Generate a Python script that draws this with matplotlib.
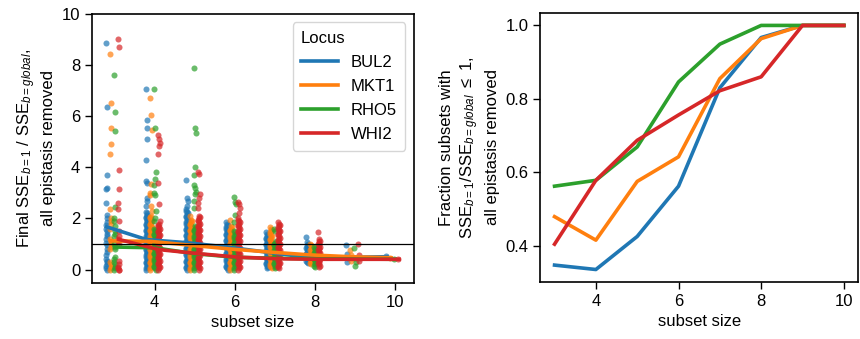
import numpy as np
import matplotlib
matplotlib.use("Agg")
import matplotlib.pyplot as plt

plt.rcParams['font.family'] = ['Liberation Sans', 'DejaVu Sans']
plt.rcParams['mathtext.fontset'] = 'custom'
plt.rcParams['mathtext.rm'] = 'Liberation Sans'
plt.rcParams['mathtext.it'] = 'Liberation Sans:italic'
plt.rcParams['font.size'] = 12

loci = ["BUL2", "MKT1", "RHO5", "WHI2"]
colors = ["#1f77b4", "#ff7f0e", "#2ca02c", "#d62728"]
sizes = [3, 4, 5, 6, 7, 8, 9, 10]

# mean ratio per subset size (left panel lines)
mean_BUL2 = [1.67, 1.17, 1.05, 0.88, 0.68, 0.48, 0.48, 0.50]
mean_MKT1 = [1.12, 1.10, 0.95, 0.80, 0.68, 0.57, 0.50, 0.46]
mean_RHO5 = [0.88, 0.85, 0.62, 0.48, 0.44, 0.42, 0.41, 0.40]
mean_WHI2 = [1.18, 0.78, 0.62, 0.48, 0.42, 0.40, 0.40, 0.40]

# fraction of subsets with ratio <= 1 (right panel)
frac_BUL2 = [0.347, 0.335, 0.425, 0.562, 0.830, 0.967, 1.0, 1.0]
frac_MKT1 = [0.479, 0.415, 0.575, 0.642, 0.855, 0.964, 1.0, 1.0]
frac_RHO5 = [0.562, 0.578, 0.669, 0.846, 0.949, 1.0, 1.0, 1.0]
frac_WHI2 = [0.404, 0.578, 0.687, 0.756, 0.822, 0.860, 1.0, 1.0]

# individual subset ratios (left panel points), one list per subset size
pts_BUL2 = [
    [8.85, 6.35, 3.7, 3.2, 3.15, 2.6, 2.15, 2.0, 1.85, 1.75, 1.6, 1.5, 1.4, 1.3, 1.2, 1.05, 0.95,
     0.8, 0.7, 0.55, 0.4, 0.35, 0.3, 0.2, 0.12, 0.05, 0.0],
    [7.05, 5.85, 5.55, 5.1, 4.3, 3.45, 3.4, 2.8, 2.7, 2.5, 2.25, 2.2, 2.15, 2.1, 2.05, 2.0, 1.95,
     1.9, 1.85, 1.8, 1.75, 1.7, 1.65, 1.6, 1.55, 1.5, 1.45, 1.4, 1.35, 1.3, 1.25, 1.2, 1.15, 1.1,
     1.05, 1.0, 0.95, 0.9, 0.85, 0.8, 0.75, 0.7, 0.65, 0.6, 0.55, 0.5, 0.45, 0.4, 0.35, 0.3, 0.25,
     0.2, 0.15, 0.1, 0.05, 0.0],
    [3.5, 2.8, 2.7, 2.5, 2.35, 2.3, 2.25, 2.2, 2.15, 2.1, 2.05, 2.0, 1.95, 1.9, 1.85, 1.8, 1.75,
     1.7, 1.65, 1.6, 1.55, 1.5, 1.45, 1.4, 1.35, 1.3, 1.25, 1.2, 1.15, 1.1, 1.05, 1.0, 0.95, 0.9,
     0.85, 0.8, 0.75, 0.7, 0.65, 0.6, 0.55, 0.5, 0.45, 0.4, 0.35, 0.3, 0.25, 0.2, 0.15, 0.1, 0.05,
     0.0],
    [1.85, 1.8, 1.75, 1.7, 1.65, 1.6, 1.55, 1.5, 1.45, 1.4, 1.35, 1.3, 1.25, 1.2, 1.15, 1.1, 1.05,
     1.0, 0.95, 0.9, 0.85, 0.8, 0.75, 0.7, 0.65, 0.6, 0.55, 0.5, 0.45, 0.4, 0.35, 0.3, 0.25, 0.2,
     0.15, 0.1, 0.05, 0.0],
    [1.45, 1.4, 1.35, 1.3, 1.25, 1.2, 1.15, 1.1, 1.05, 1.0, 0.95, 0.9, 0.85, 0.8, 0.75, 0.7, 0.65,
     0.6, 0.55, 0.5, 0.45, 0.4, 0.35, 0.3, 0.25, 0.2, 0.15, 0.1, 0.05],
    [1.26, 1.06, 1.0, 0.95, 0.9, 0.85, 0.8, 0.75, 0.7, 0.65, 0.6, 0.55, 0.5, 0.45, 0.4, 0.35, 0.3,
     0.25],
    [0.94, 0.6, 0.45, 0.3],
    [0.52],
]
pts_MKT1 = [
    [8.45, 6.5, 5.55, 4.9, 4.5, 2.35, 2.0, 1.9, 1.8, 1.6, 1.2, 1.1, 1.0, 0.9, 0.8, 0.3, 0.2, 0.1,
     0.05, 0.0],
    [6.7, 6.05, 5.45, 3.35, 3.0, 2.9, 2.5, 2.3, 2.1, 2.05, 2.0, 1.95, 1.9, 1.85, 1.8, 1.75, 1.7,
     1.65, 1.6, 1.55, 1.5, 1.45, 1.4, 1.35, 1.3, 1.25, 1.2, 1.15, 1.1, 1.05, 1.0, 0.95, 0.9, 0.85,
     0.8, 0.75, 0.7, 0.65, 0.6, 0.55, 0.5, 0.45, 0.4, 0.35, 0.3, 0.25, 0.2, 0.15, 0.1, 0.05, 0.0],
    [2.1, 1.95, 1.9, 1.85, 1.8, 1.75, 1.7, 1.65, 1.6, 1.55, 1.5, 1.45, 1.4, 1.35, 1.3, 1.25, 1.2,
     1.15, 1.1, 1.05, 1.0, 0.95, 0.9, 0.85, 0.8, 0.75, 0.7, 0.65, 0.6, 0.55, 0.5, 0.45, 0.4, 0.35,
     0.3, 0.25, 0.2, 0.15, 0.1, 0.05, 0.0],
    [1.95, 1.7, 1.65, 1.6, 1.55, 1.5, 1.45, 1.4, 1.35, 1.3, 1.25, 1.2, 1.15, 1.1, 1.05, 1.0, 0.95,
     0.9, 0.85, 0.8, 0.75, 0.7, 0.65, 0.6, 0.55, 0.5, 0.45, 0.4, 0.35, 0.3, 0.25, 0.2, 0.15, 0.1,
     0.05, 0.0],
    [1.65, 1.6, 1.55, 1.5, 1.45, 1.4, 1.35, 1.3, 1.25, 1.2, 1.15, 1.1, 1.05, 1.0, 0.95, 0.9, 0.85,
     0.8, 0.75, 0.7, 0.65, 0.6, 0.55, 0.5, 0.45, 0.4, 0.35, 0.3, 0.25, 0.2, 0.15, 0.1, 0.05],
    [1.0, 0.95, 0.9, 0.85, 0.8, 0.75, 0.7, 0.65, 0.6, 0.55, 0.5, 0.45, 0.4, 0.35, 0.3, 0.25, 0.2],
    [0.75, 0.55, 0.45, 0.35],
    [0.46],
]
pts_RHO5 = [
    [7.6, 6.15, 5.4, 2.45, 2.0, 1.9, 1.7, 1.5, 1.4, 1.3, 1.0, 0.9, 0.8, 0.5, 0.4, 0.3, 0.2, 0.1,
     0.05, 0.0],
    [7.05, 5.55, 3.8, 3.55, 3.3, 3.0, 2.9, 2.3, 2.0, 1.9, 1.6, 1.55, 1.5, 1.45, 1.4, 1.35, 1.3,
     1.25, 1.2, 1.15, 1.1, 1.05, 1.0, 0.95, 0.9, 0.85, 0.8, 0.75, 0.7, 0.65, 0.6, 0.55, 0.5, 0.45,
     0.4, 0.35, 0.3, 0.25, 0.2, 0.15, 0.1, 0.05, 0.0],
    [7.9, 5.55, 5.35, 4.0, 3.7, 3.3, 3.2, 3.05, 2.95, 2.7, 2.4, 1.7, 1.65, 1.6, 1.55, 1.5, 1.45,
     1.4, 1.35, 1.3, 1.25, 1.2, 1.15, 1.1, 1.05, 1.0, 0.95, 0.9, 0.85, 0.8, 0.75, 0.7, 0.65, 0.6,
     0.55, 0.5, 0.45, 0.4, 0.35, 0.3, 0.25, 0.2, 0.15, 0.1, 0.05, 0.0],
    [2.85, 2.65, 2.55, 2.15, 1.85, 1.5, 1.45, 1.4, 1.35, 1.3, 1.25, 1.2, 1.15, 1.1, 1.05, 1.0,
     0.95, 0.9, 0.85, 0.8, 0.75, 0.7, 0.65, 0.6, 0.55, 0.5, 0.45, 0.4, 0.35, 0.3, 0.25, 0.2, 0.15,
     0.1, 0.05, 0.0],
    [1.6, 1.5, 1.1, 1.05, 1.0, 0.95, 0.9, 0.85, 0.8, 0.75, 0.7, 0.65, 0.6, 0.55, 0.5, 0.45, 0.4,
     0.35, 0.3, 0.25, 0.2, 0.15, 0.1, 0.05],
    [0.9, 0.85, 0.8, 0.75, 0.7, 0.65, 0.6, 0.55, 0.5, 0.45, 0.4, 0.35, 0.3, 0.25, 0.2, 0.15, 0.1],
    [0.85, 0.45, 0.3, 0.15],
    [0.40],
]
pts_WHI2 = [
    [9.0, 8.7, 3.9, 3.15, 2.6, 2.35, 1.9, 1.5, 1.3, 1.2, 1.1, 1.0, 0.35, 0.2, 0.1, 0.05, 0.0, 0.0],
    [5.25, 5.1, 4.95, 4.85, 4.5, 3.4, 2.55, 1.9, 1.8, 1.75, 1.7, 1.65, 1.6, 1.55, 1.5, 1.45, 1.4,
     1.35, 1.3, 1.25, 1.2, 1.15, 1.1, 1.05, 1.0, 0.95, 0.9, 0.85, 0.8, 0.75, 0.7, 0.65, 0.6, 0.55,
     0.5, 0.45, 0.4, 0.35, 0.3, 0.25, 0.2, 0.15, 0.1, 0.05, 0.0],
    [3.8, 3.75, 2.95, 2.8, 2.6, 2.4, 2.1, 2.05, 2.0, 1.95, 1.9, 1.85, 1.8, 1.75, 1.7, 1.65, 1.6,
     1.55, 1.5, 1.45, 1.4, 1.35, 1.3, 1.25, 1.2, 1.15, 1.1, 1.05, 1.0, 0.95, 0.9, 0.85, 0.8, 0.75,
     0.7, 0.65, 0.6, 0.55, 0.5, 0.45, 0.4, 0.35, 0.3, 0.25, 0.2, 0.15, 0.1, 0.05, 0.0],
    [2.65, 2.55, 2.4, 2.2, 2.0, 1.95, 1.9, 1.85, 1.8, 1.75, 1.7, 1.65, 1.6, 1.55, 1.5, 1.45, 1.4,
     1.35, 1.3, 1.25, 1.2, 1.15, 1.1, 1.05, 1.0, 0.95, 0.9, 0.85, 0.8, 0.75, 0.7, 0.65, 0.6, 0.55,
     0.5, 0.45, 0.4, 0.35, 0.3, 0.25, 0.2, 0.15, 0.1, 0.05, 0.0],
    [1.84, 1.8, 1.75, 1.7, 1.65, 1.6, 1.55, 1.5, 1.45, 1.4, 1.35, 1.3, 1.25, 1.2, 1.15, 1.1, 1.05,
     1.0, 0.95, 0.9, 0.85, 0.8, 0.75, 0.7, 0.65, 0.6, 0.55, 0.5, 0.45, 0.4, 0.35, 0.3, 0.25, 0.2,
     0.15, 0.1, 0.05],
    [1.45, 1.2, 1.13, 1.1, 1.05, 1.0, 0.95, 0.9, 0.85, 0.8, 0.75, 0.7, 0.65, 0.6, 0.55, 0.5, 0.45,
     0.4, 0.35, 0.3, 0.25, 0.2, 0.15, 0.1],
    [1.0, 0.55, 0.45, 0.35],
    [0.40],
]

means = [mean_BUL2, mean_MKT1, mean_RHO5, mean_WHI2]
fracs = [frac_BUL2, frac_MKT1, frac_RHO5, frac_WHI2]
points = [pts_BUL2, pts_MKT1, pts_RHO5, pts_WHI2]
dodge = [-0.2, -0.1, 0.0, 0.1]
jit = [-0.02, 0.0, 0.02, 0.01, -0.01]

fig = plt.figure(figsize=(8.6, 3.39), dpi=100)
ax1 = fig.add_axes([0.107, 0.165, 0.374, 0.794])
ax2 = fig.add_axes([0.628, 0.169, 0.370, 0.792])

for i in range(4):
    for s, vals in zip(sizes, points[i]):
        xs = [s + dodge[i] + jit[k % len(jit)] for k in range(len(vals))]
        ax1.scatter(xs, vals, s=19, color=colors[i], alpha=0.7, linewidths=0, zorder=2)
for i in range(4):
    ax1.plot(np.array(sizes) + dodge[i], means[i], color=colors[i], lw=2.6, zorder=3,
             label=loci[i])
ax1.axhline(1, color='black', lw=0.9, zorder=4)
ax1.set_xlim(2.435, 10.465)
ax1.set_ylim(-0.53, 10)
ax1.set_xticks([4, 6, 8, 10])
ax1.set_yticks([0, 2, 4, 6, 8, 10])
ax1.set_xlabel("subset size")
ax1.set_ylabel("Final SSE$_{b=1}$ / SSE$_{b=global}$,\nall epistasis removed", linespacing=1.3)
leg = ax1.legend(title="Locus", loc='upper right', handlelength=2.2, fontsize=12,
                 title_fontsize=12, borderpad=0.5, labelspacing=0.55, alignment='left')
for h in leg.get_lines():
    h.set_linewidth(2.6)

for i in range(4):
    ax2.plot(sizes, fracs[i], color=colors[i], lw=2.6, label=loci[i])
ax2.set_xticks([4, 6, 8, 10])
ax2.set_yticks([0.4, 0.6, 0.8, 1.0])
ax2.set_xlabel("subset size")
ax2.set_ylabel("Fraction subsets with\nSSE$_{b=1}$/SSE$_{b=global}$ $\\leq$ 1,\nall epistasis removed",
               linespacing=1.3)

for ax in (ax1, ax2):
    ax.tick_params(direction='out', length=5, width=1)
    for sp in ax.spines.values():
        sp.set_linewidth(1.2)

fig.savefig("out.png", dpi=100)
